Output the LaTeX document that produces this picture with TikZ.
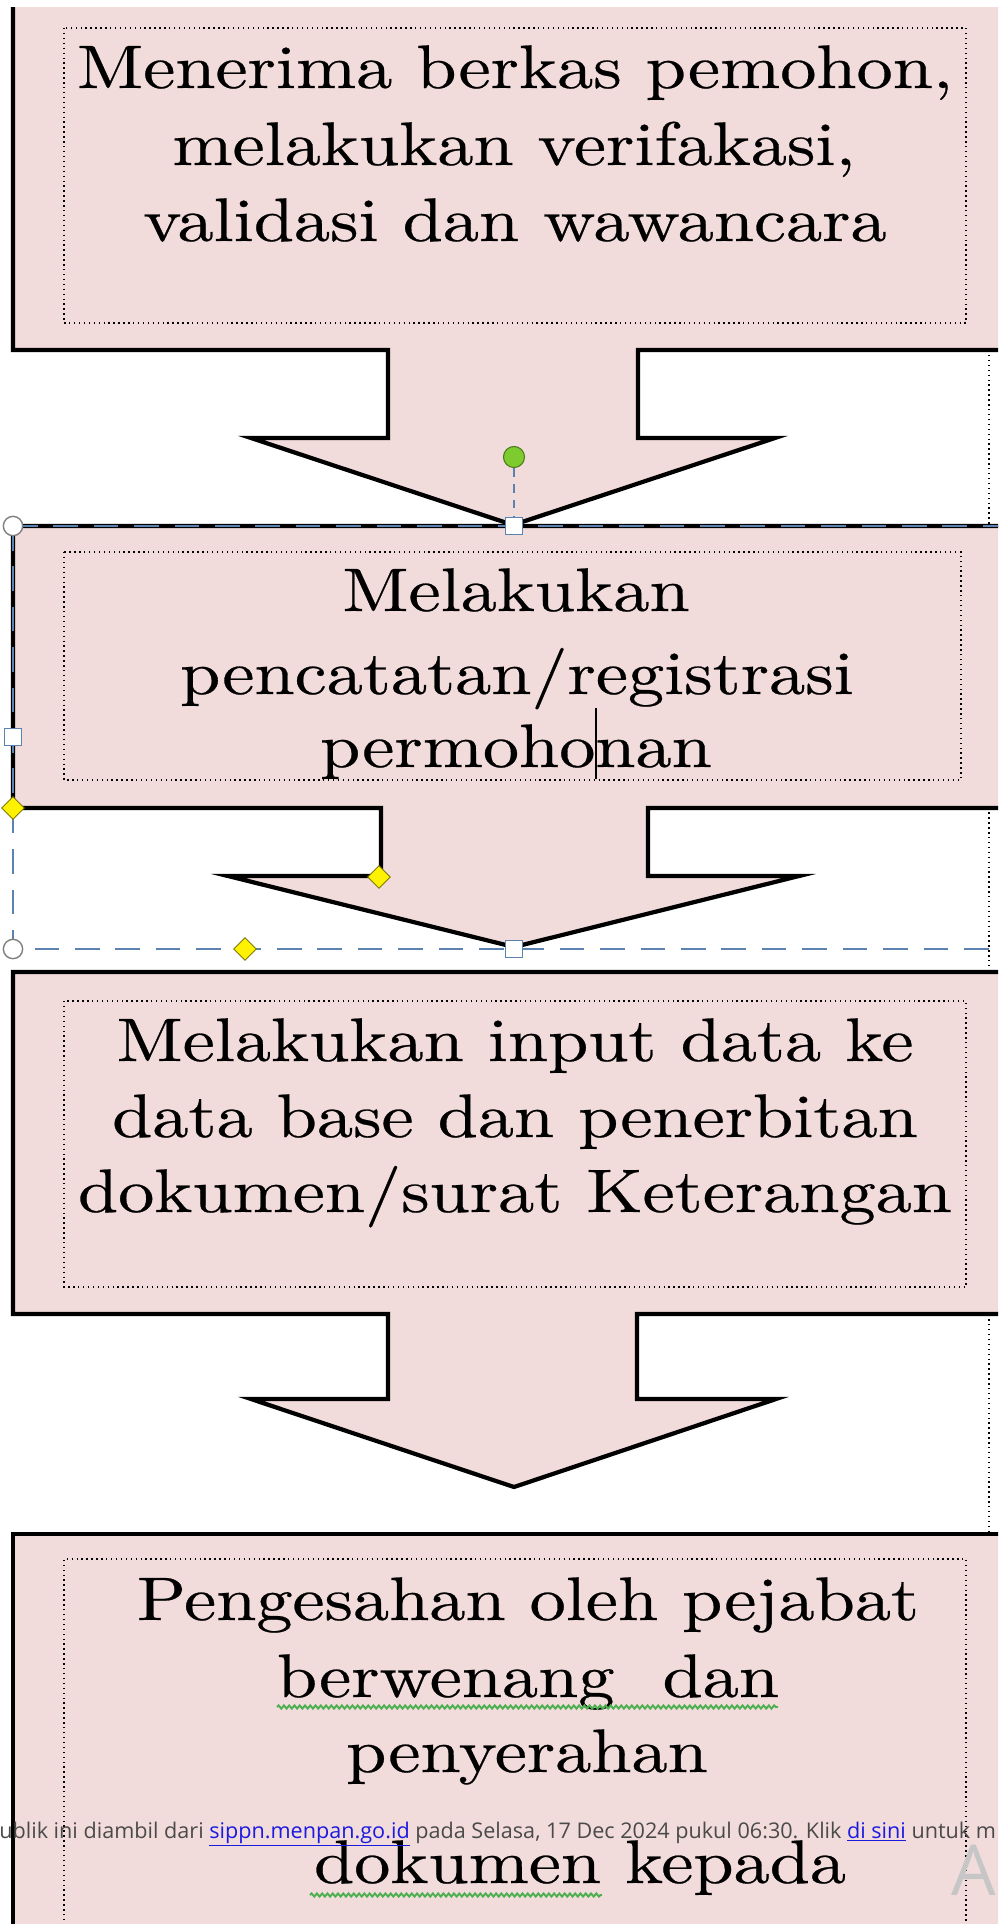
\documentclass[tikz,border=0pt]{standalone}
\usepackage{fontspec}
\usepackage{tikz}
\usetikzlibrary{shapes.geometric, decorations.pathmorphing}
\newfontfamily\wmfont{Open Sans}
\newfontfamily\stepfont{lmroman10-regular}[Extension=.otf, FakeBold=0.4]
\definecolor{boxpink}{HTML}{F2DCDB}
\definecolor{selblue}{HTML}{5B82B0}
\definecolor{rotgreen}{HTML}{7DCB2E}
\definecolor{adjyellow}{HTML}{FFF200}
\definecolor{spellgreen}{HTML}{4CAF50}
\definecolor{wmgray}{HTML}{4A4A4A}
\definecolor{wmblue}{HTML}{1A1AE0}
\tikzset{
  stepfill/.style={fill=boxpink},
  stepline/.style={draw=black, line width=2.4pt, line join=miter},
  stepframe/.style={draw=black, dotted, line width=0.8pt},
  steptext/.style={font=\stepfont\fontsize{35}{44}\selectfont, anchor=base, inner sep=0pt, xscale=1.175, transform shape},
  selline/.style={draw=selblue, line width=1.2pt, dash pattern=on 14pt off 9pt},
  handlesq/.style={draw=selblue, fill=white, line width=0.8pt, minimum size=9.5pt, inner sep=0pt},
  handlecirc/.style={circle, draw=gray, fill=white, line width=0.8pt, minimum size=11pt, inner sep=0pt},
  handlerot/.style={circle, draw=rotgreen!60!black, fill=rotgreen, line width=0.6pt, minimum size=12pt, inner sep=0pt},
  handleadj/.style={diamond, draw=adjyellow!50!black, fill=adjyellow, line width=0.5pt, minimum size=13pt, inner sep=0pt},
  spellwave/.style={draw=spellgreen, line width=1.1pt, decorate, decoration={snake, amplitude=0.9pt, segment length=3pt}},
  wmtext/.style={font=\wmfont\fontsize{12.3}{14}\selectfont, text=wmgray, anchor=base west, inner sep=0pt}
}

\begin{document}
\begin{tikzpicture}[x=0.02cm, y=-0.02cm]
  \useasboundingbox (0,0) rectangle (998,1924);
  \clip (0,0) rectangle (998,1924);

  % frame edge behind the boxes
  \draw[stepframe] (989,350) -- (989,1540);

  % box 1
  \fill[stepfill] (13,7) -- (1010,7) -- (1010,350) -- (638,350) -- (638,438) -- (775,438)
    -- (513,525) -- (251,438) -- (388,438) -- (388,350) -- (13,350) -- cycle;
  \draw[stepline] (13,7) -- (13,350) -- (388,350) -- (388,438) -- (251,438) -- (513,525)
    -- (775,438) -- (638,438) -- (638,350) -- (1010,350);
  \draw[stepframe] (64,28) rectangle (966,323);

  % box 2
  \fill[stepfill] (13,526) -- (1010,526) -- (1010,808) -- (648,808) -- (648,876) -- (799,876)
    -- (514,947) -- (228,876) -- (381,876) -- (381,808) -- (13,808) -- cycle;
  \draw[stepline] (1010,526) -- (13,526) -- (13,808) -- (381,808) -- (381,876) -- (228,876)
    -- (514,947) -- (799,876) -- (648,876) -- (648,808) -- (1010,808);
  \draw[stepframe] (64,552) rectangle (961,780);

  % box 3
  \fill[stepfill] (13,972) -- (1010,972) -- (1010,1314) -- (637,1314) -- (637,1399) -- (776,1399)
    -- (514,1487) -- (251,1399) -- (388,1399) -- (388,1314) -- (13,1314) -- cycle;
  \draw[stepline] (1010,972) -- (13,972) -- (13,1314) -- (388,1314) -- (388,1399) -- (251,1399)
    -- (514,1487) -- (776,1399) -- (637,1399) -- (637,1314) -- (1010,1314);
  \draw[stepframe] (64,1001) rectangle (966,1287);

  % box 4
  \fill[stepfill] (13,1534) rectangle (1010,1940);
  \draw[stepline] (13,1940) -- (13,1534) -- (1010,1534);
  \draw[stepframe] (64,1940) -- (64,1559) -- (966,1559) -- (966,1940);

  \node[steptext] (t1a) at (515,88) {Menerima berkas pemohon,};
  \node[steptext] (t1b) at (514,165) {melakukan verifakasi,};
  \node[steptext] (t1c) at (515,241) {validasi dan wawancara};

  \node[steptext] (t2a) at (516,611) {Melakukan};
  \node[steptext] (t2b) at (517,694) {pencatatan/registrasi};
  \node[steptext] (t2c) at (516,767) {permohonan};

  \node[steptext] (t3a) at (515,1061) {Melakukan input data ke};
  \node[steptext] (t3b) at (515,1137) {data base dan penerbitan};
  \node[steptext] (t3c) at (515,1212) {dokumen/surat Keterangan};

  \node[steptext] (t4a) at (528,1620) {Pengesahan oleh pejabat};
  \node[steptext] (t4b) at (528,1697) {berwenang\ \ dan};
  \node[steptext] (t4c) at (527,1772) {penyerahan};
  \node[steptext] (t4d) at (580,1883) {dokumen kepada};

  \draw[spellwave] (277,1707) -- (778,1707);
  \draw[spellwave] (310,1895) -- (602,1895);

  % selection of box 2
  \draw[selline] (13,526) -- (1010,526);
  \draw[selline] (13,526) -- (13,949) -- (1010,949);
  \node[handlerot] (rot) at (514,457) {};
  \node[handlesq] (sqtop) at (514,526) {};
  \node[handlesq] (sqleft) at (13,737) {};
  \node[handlesq] (sqbot) at (514,949) {};
  \node[handlecirc] (cnw) at (13,526) {};
  \node[handlecirc] (csw) at (13,949) {};
  \node[handleadj] (adj1) at (13,808) {};
  \node[handleadj] (adj2) at (379,877) {};
  \node[handleadj] (adj3) at (245,949) {};
  \draw[selline, dash pattern=on 5pt off 4pt] (rot) -- (sqtop);
  \draw[line width=1pt] (596,708) -- (596,779);

  % page notice
  \node[wmtext] (wm) at (-1,1838) {ublik ini diambil dari \textcolor{wmblue}{\underline{sippn.menpan.go.id}} pada Selasa, 17 Dec 2024 pukul 06:30. Klik \textcolor{wmblue}{\underline{di sini}} untuk m};
  \node[wmtext, font=\wmfont\fontsize{40}{40}\selectfont, text=gray!45] (wmA) at (951,1895) {A};
\end{tikzpicture}
\end{document}
